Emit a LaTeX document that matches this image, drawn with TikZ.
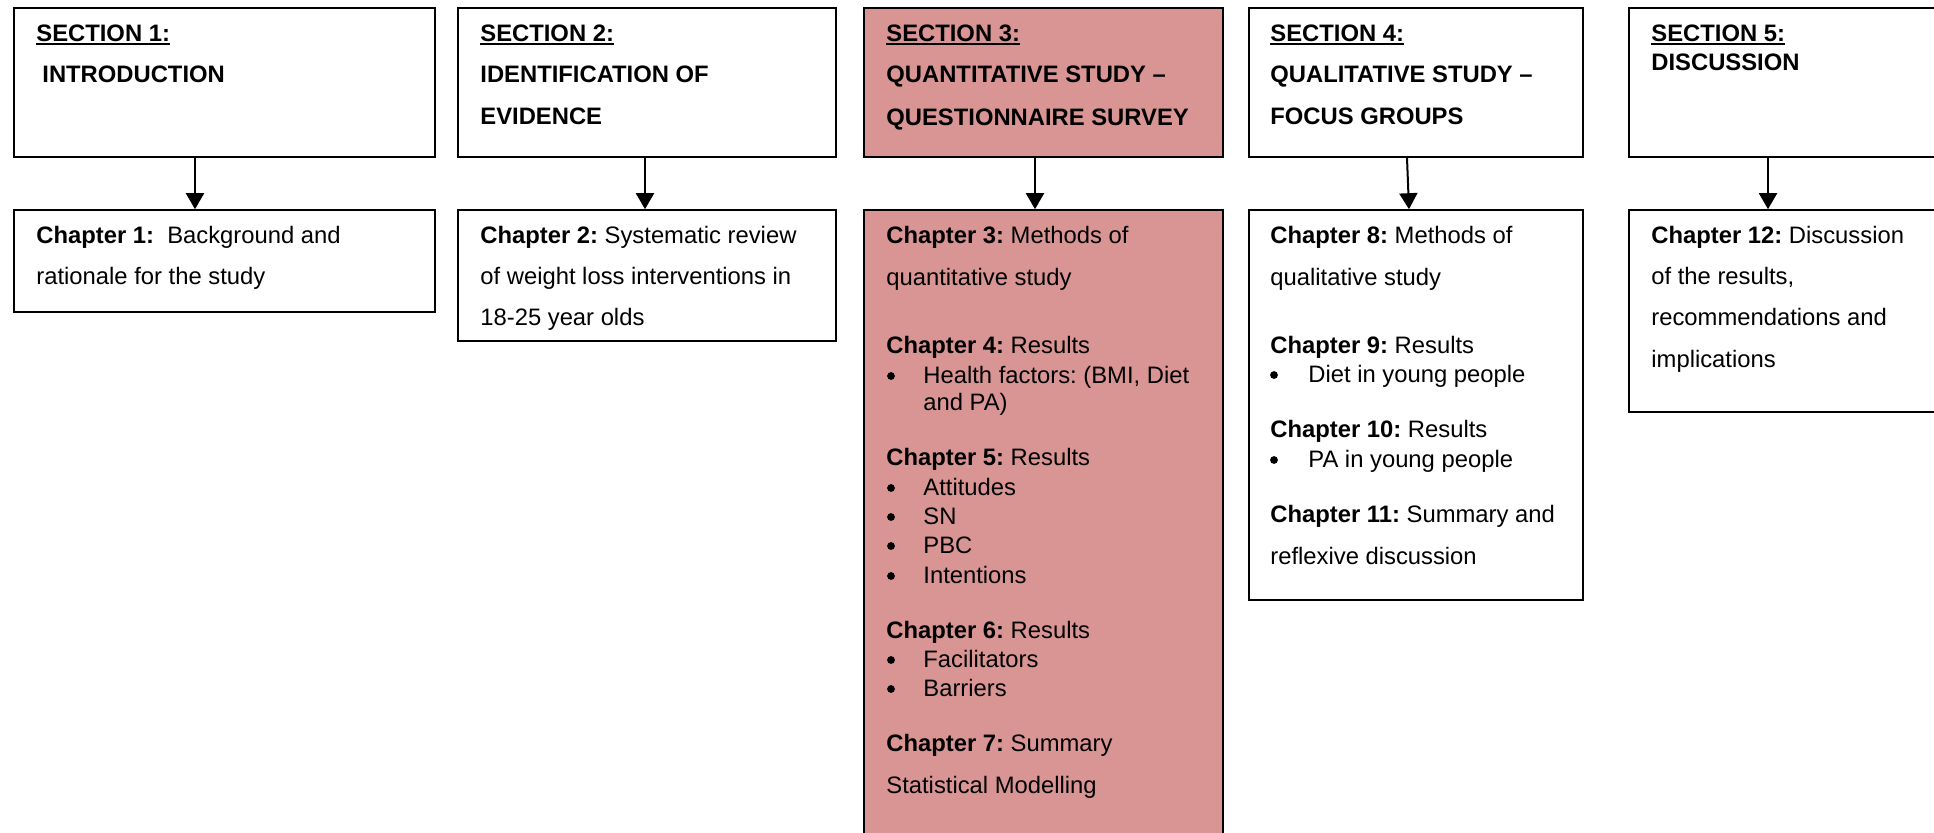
\documentclass[tikz,border=0pt]{standalone}
\usepackage{fontspec}
\setmainfont{Liberation Sans}
\usetikzlibrary{arrows.meta,fit}
\frenchspacing

\definecolor{quantpink}{HTML}{D99594}

\begin{document}
\begin{tikzpicture}[
  x=0.5pt, y=-0.5pt,
  box/.style={draw=black, line width=0.8pt, inner sep=0pt, fit={#1}},
  pinkbox/.style={box={#1}, fill=quantpink},
  txt/.style={anchor=base west, inner sep=0pt, font=\fontsize{11.9pt}{14pt}\selectfont\frenchspacing},
  head/.style={txt, font=\fontsize{11.9pt}{14pt}\selectfont\bfseries},
  dot/.style={circle, fill=black, inner sep=0pt, minimum size=3.9pt},
  arr/.style={line width=1pt, -{Triangle[width=9pt,length=8pt]}},
  ul/.style={line width=0.9pt}
]
\path[use as bounding box] (0,0) rectangle (1934,832);
\fill[white] (0,0) rectangle (1934,832);
\clip (0,0) rectangle (1934,832);

% ---------- Section boxes and chapter boxes ----------
\node[box={(14,8) (435,157)}] (s1) {};
\node[box={(14,210) (435,312)}] (c1) {};
\node[box={(458,8) (836,157)}] (s2) {};
\node[box={(458,210) (836,341)}] (c2) {};
\node[pinkbox={(864,8) (1223,157)}] (s3) {};
\node[pinkbox={(864,210) (1223,840)}] (c3) {};
\node[box={(1249,8) (1583,157)}] (s4) {};
\node[box={(1249,210) (1583,600)}] (c4) {};
\node[box={(1629,8) (1945,157)}] (s5) {};
\node[box={(1629,210) (1945,412)}] (c5) {};

% ---------- Arrows ----------
\coordinate (a1) at (195,0);
\coordinate (a2) at (645,0);
\coordinate (a3) at (1035,0);
\coordinate (a4) at (1407,0);
\coordinate (a4b) at (1409,0);
\coordinate (a5) at (1768,0);
\draw[arr] (s1.south -| a1) -- (c1.north -| a1);
\draw[arr] (s2.south -| a2) -- (c2.north -| a2);
\draw[arr] (s3.south -| a3) -- (c3.north -| a3);
\draw[arr] (s4.south -| a4) -- (c4.north -| a4b);
\draw[arr] (s5.south -| a5) -- (c5.north -| a5);

% ---------- Section 1 ----------
\node[head] (h1) at (36,41) {SECTION 1:};
\node[head] (h1b) at (42,82) {INTRODUCTION};
\node[txt] (p1a) at (36,243) {\textbf{Chapter 1:}\ \ Background and};
\node[txt] (p1b) at (36,284) {rationale for the study};

% ---------- Section 2 ----------
\node[head] (h2) at (480,41) {SECTION 2:};
\node[head] (h2b) at (480,82) {IDENTIFICATION OF};
\node[head] (h2c) at (480,124) {EVIDENCE};
\node[txt] (p2a) at (480,243) {\textbf{Chapter 2:} Systematic review};
\node[txt] (p2b) at (480,284) {of weight loss interventions in};
\node[txt] (p2c) at (480,325) {18-25 year olds};

% ---------- Section 3 ----------
\node[head] (h3) at (886,41) {SECTION 3:};
\node[head] (h3b) at (886,82) {QUANTITATIVE STUDY –};
\node[head] (h3c) at (886,125) {QUESTIONNAIRE SURVEY};
\node[txt] (p3a) at (886,243) {\textbf{Chapter 3:} Methods of};
\node[txt] (p3b) at (886,285) {quantitative study};
\node[txt] (p4a) at (886,353) {\textbf{Chapter 4:} Results};
\node[dot] (b4a) at (891,376) {};
\node[txt] (p4b) at (923,383) {Health factors: (BMI, Diet};
\node[txt] (p4c) at (923,410) {and PA)};
\node[txt] (p5a) at (886,465) {\textbf{Chapter 5:} Results};
\node[dot] (b5a) at (891,488) {};
\node[txt] (p5b) at (923,495) {Attitudes};
\node[dot] (b5b) at (891,517) {};
\node[txt] (p5c) at (923,524) {SN};
\node[dot] (b5c) at (891,546) {};
\node[txt] (p5d) at (923,553) {PBC};
\node[dot] (b5d) at (891,576) {};
\node[txt] (p5e) at (923,583) {Intentions};
\node[txt] (p6a) at (886,638) {\textbf{Chapter 6:} Results};
\node[dot] (b6a) at (891,660) {};
\node[txt] (p6b) at (923,667) {Facilitators};
\node[dot] (b6b) at (891,689) {};
\node[txt] (p6c) at (923,696) {Barriers};
\node[txt] (p7a) at (886,751) {\textbf{Chapter 7:} Summary};
\node[txt] (p7b) at (886,793) {Statistical Modelling};

% ---------- Section 4 ----------
\node[head] (h4) at (1270,41) {SECTION 4:};
\node[head] (h4b) at (1270,82) {QUALITATIVE STUDY –};
\node[head] (h4c) at (1270,124) {FOCUS GROUPS};
\node[txt] (p8a) at (1270,243) {\textbf{Chapter 8:} Methods of};
\node[txt] (p8b) at (1270,285) {qualitative study};
\node[txt] (p9a) at (1270,353) {\textbf{Chapter 9:} Results};
\node[dot] (b9a) at (1274,375) {};
\node[txt] (p9b) at (1308,382) {Diet in young people};
\node[txt] (p10a) at (1270,437) {\textbf{Chapter 10:} Results};
\node[dot] (b10a) at (1274,460) {};
\node[txt] (p10b) at (1308,467) {PA in young people};
\node[txt] (p11a) at (1270,522) {\textbf{Chapter 11:} Summary and};
\node[txt] (p11b) at (1270,564) {reflexive discussion};

% ---------- Section 5 ----------
\node[head] (h5) at (1651,41) {SECTION 5:};
\node[head] (h5b) at (1651,70) {DISCUSSION};
\node[txt] (p12a) at (1651,243) {\textbf{Chapter 12:} Discussion};
\node[txt] (p12b) at (1651,284) {of the results,};
\node[txt] (p12c) at (1651,325) {recommendations and};
\node[txt] (p12d) at (1651,367) {implications};

% ---------- Underlines of the section labels ----------
\foreach \h in {h1,h2,h3,h4,h5}
  \draw[ul] ([yshift=-1.6pt]\h.base west) -- ([yshift=-1.6pt]\h.base east);
\end{tikzpicture}
\end{document}
